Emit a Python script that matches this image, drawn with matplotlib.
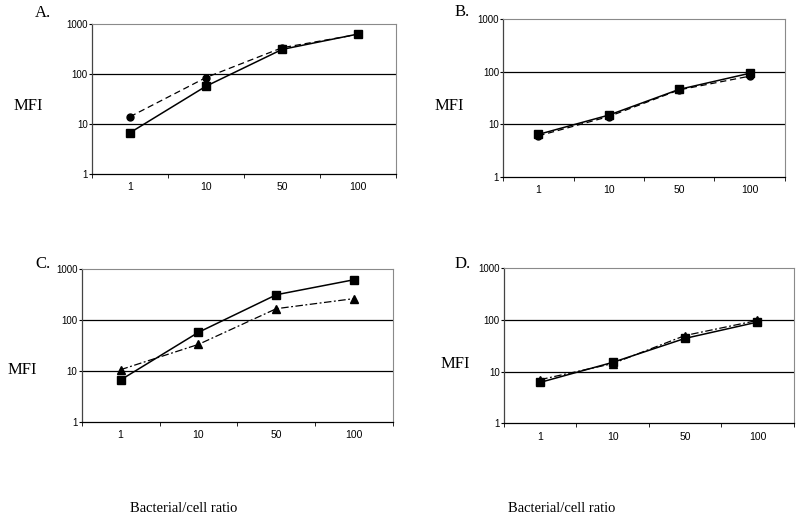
import matplotlib
matplotlib.use("Agg")
import matplotlib.pyplot as plt
from matplotlib.ticker import FixedLocator

categories = ["1", "10", "50", "100"]
y_ticks = [1, 10, 100, 1000]

# Panel A
a_square = [6.7, 57, 310, 630]
a_circle = [14, 85, 335, 620]
# Panel B
b_square = [6.4, 14.9, 46, 93]
b_circle = [6.0, 14.0, 45, 82]
# Panel C
c_square = [6.6, 57, 312, 616]
c_triangle = [10.5, 33, 166, 262]
# Panel D
d_square = [6.2, 15.1, 44, 91]
d_triangle = [7.0, 14.3, 50, 98]

fig = plt.figure(figsize=(8, 5.23), dpi=100)

serif = ["Liberation Serif", "DejaVu Serif"]
sans = ["Liberation Sans", "DejaVu Sans"]

panels = [
    ("A.", [0.115, 0.6673, 0.38, 0.2868], a_square, a_circle, "o", (0, (5, 3))),
    ("B.", [0.629, 0.662, 0.352, 0.3015], b_square, b_circle, "o", (0, (5, 3))),
    ("C.", [0.102, 0.1937, 0.3895, 0.292], c_square, c_triangle, "^", (0, (6, 2, 1.5, 2))),
    ("D.", [0.630, 0.1906, 0.362, 0.2964], d_square, d_triangle, "^", (0, (6, 2, 1.5, 2))),
]

letter_pos = {"A.": (35, 13), "B.": (455, 12), "C.": (35, 264), "D.": (455, 264)}
mfi_pos = {"A.": (28, 106), "B.": (449, 106), "C.": (22, 370), "D.": (455, 364)}

x = list(range(len(categories)))
for label, rect, sq, other, mk, ls in panels:
    ax = fig.add_axes(rect)
    ax.set_yscale("log")
    ax.set_ylim(1, 1000)
    ax.set_xlim(-0.5, len(categories) - 0.5)
    for v in [10, 100]:
        ax.axhline(v, color="black", lw=0.9, zorder=1)
    ax.plot(x, other, color="black", lw=0.9, ls=ls, marker=mk,
            markersize=5 if mk == "o" else 6, zorder=3)
    ax.plot(x, sq, color="black", lw=1.1, ls="-", marker="s",
            markersize=5.5, zorder=4)
    ax.yaxis.set_major_locator(FixedLocator(y_ticks))
    ax.yaxis.set_minor_locator(FixedLocator([]))
    ax.set_yticklabels([str(v) for v in y_ticks], fontfamily=sans, fontsize=7)
    ax.set_xticks(x)
    ax.set_xticklabels(categories, fontfamily=sans, fontsize=7.5)
    ax.xaxis.set_minor_locator(FixedLocator([i - 0.5 for i in range(len(categories) + 1)]))
    ax.tick_params(axis="x", which="major", length=0, pad=6)
    ax.tick_params(axis="x", which="minor", length=3, direction="out", color="black")
    ax.tick_params(axis="y", which="major", length=2, pad=1, color="black")
    for s in ["top", "right"]:
        ax.spines[s].set_color("#8a8a8a")
        ax.spines[s].set_linewidth(0.8)
    ax.spines["left"].set_color("#444444")
    ax.spines["bottom"].set_color("black")
    ax.spines["left"].set_linewidth(0.9)
    ax.spines["bottom"].set_linewidth(0.9)

    lx, ly = letter_pos[label]
    fig.text(lx / 800, 1 - ly / 523, label, fontfamily=serif, fontsize=12,
             ha="left", va="center")
    mx, my = mfi_pos[label]
    fig.text(mx / 800, 1 - my / 523, "MFI", fontfamily=serif, fontsize=12,
             ha="center", va="center")

fig.text(184 / 800, 1 - 508 / 523, "Bacterial/cell ratio", fontfamily=serif,
         fontsize=10.5, ha="center", va="center")
fig.text(562 / 800, 1 - 508 / 523, "Bacterial/cell ratio", fontfamily=serif,
         fontsize=10.5, ha="center", va="center")

fig.savefig("out.png", dpi=100)
